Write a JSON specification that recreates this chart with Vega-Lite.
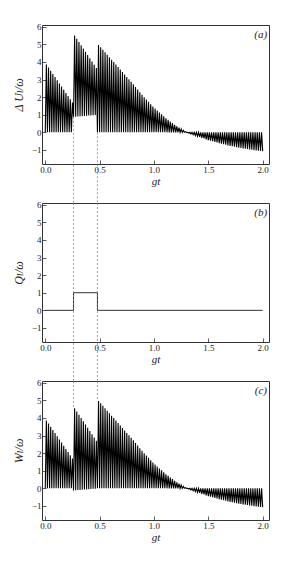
{
  "$schema": "https://vega.github.io/schema/vega-lite/v6.json",
  "background": "white",
  "padding": {"left": 11, "top": 22, "right": 5, "bottom": 5},
  "spacing": 39,
  "bounds": "flush",
  "config": {
    "view": {"stroke": "#333", "strokeWidth": 1},
    "axis": {
      "domain": false, "grid": false, "labelOverlap": false,
      "labelFont": "Liberation Serif", "labelFontSize": 9, "labelColor": "#222",
      "titleFont": "Liberation Serif, DejaVu Serif", "titleFontStyle": "italic", "titleFontWeight": "normal",
      "titleColor": "#222", "tickColor": "#333", "tickSize": -4, "tickWidth": 0.8, "labelPadding": 5
    },
    "axisX": {"titleFontSize": 11, "titlePadding": 1},
    "axisY": {"titleFontSize": 12, "titlePadding": 6}
  },
  "datasets": {
    "osc": [
      {"t":0.00,"du":0,"w":0},{"t":0.01,"du":3.86,"w":3.86},{"t":0.02,"du":0,"w":0},{"t":0.03,"du":3.68,"w":3.68},
      {"t":0.04,"du":0,"w":0},{"t":0.05,"du":3.50,"w":3.50},{"t":0.06,"du":0,"w":0},{"t":0.07,"du":3.32,"w":3.32},
      {"t":0.08,"du":0,"w":0},{"t":0.09,"du":3.14,"w":3.14},{"t":0.10,"du":0,"w":0},{"t":0.11,"du":2.96,"w":2.96},
      {"t":0.12,"du":0,"w":0},{"t":0.13,"du":2.78,"w":2.78},{"t":0.14,"du":0,"w":0},{"t":0.15,"du":2.60,"w":2.60},
      {"t":0.16,"du":0,"w":0},{"t":0.17,"du":2.42,"w":2.42},{"t":0.18,"du":0,"w":0},{"t":0.19,"du":2.24,"w":2.24},
      {"t":0.20,"du":0,"w":0},{"t":0.21,"du":2.06,"w":2.06},{"t":0.22,"du":0,"w":0},{"t":0.23,"du":1.88,"w":1.88},
      {"t":0.24,"du":0,"w":0},{"t":0.25,"du":1.70,"w":1.70},
      {"t":0.26,"du":0.88,"w":-0.12},{"t":0.27,"du":5.50,"w":4.55},{"t":0.28,"du":0.89,"w":-0.11},{"t":0.29,"du":5.32,"w":4.37},
      {"t":0.30,"du":0.90,"w":-0.10},{"t":0.31,"du":5.13,"w":4.18},{"t":0.32,"du":0.91,"w":-0.09},{"t":0.33,"du":4.95,"w":4.00},
      {"t":0.34,"du":0.92,"w":-0.08},{"t":0.35,"du":4.76,"w":3.81},{"t":0.36,"du":0.93,"w":-0.07},{"t":0.37,"du":4.58,"w":3.63},
      {"t":0.38,"du":0.94,"w":-0.06},{"t":0.39,"du":4.39,"w":3.44},{"t":0.40,"du":0.95,"w":-0.05},{"t":0.41,"du":4.21,"w":3.26},
      {"t":0.42,"du":0.96,"w":-0.04},{"t":0.43,"du":4.02,"w":3.07},{"t":0.44,"du":0.97,"w":-0.03},{"t":0.45,"du":3.84,"w":2.89},
      {"t":0.46,"du":0.98,"w":-0.02},{"t":0.47,"du":3.65,"w":2.70},
      {"t":0.48,"du":0,"w":0},{"t":0.49,"du":4.97,"w":4.97},{"t":0.50,"du":0,"w":0},{"t":0.51,"du":4.83,"w":4.83},
      {"t":0.52,"du":0,"w":0},{"t":0.53,"du":4.69,"w":4.69},{"t":0.54,"du":0,"w":0},{"t":0.55,"du":4.55,"w":4.55},
      {"t":0.56,"du":0,"w":0},{"t":0.57,"du":4.41,"w":4.41},{"t":0.58,"du":0,"w":0},{"t":0.59,"du":4.27,"w":4.27},
      {"t":0.60,"du":0,"w":0},{"t":0.61,"du":4.13,"w":4.13},{"t":0.62,"du":0,"w":0},{"t":0.63,"du":3.99,"w":3.99},
      {"t":0.64,"du":0,"w":0},{"t":0.65,"du":3.85,"w":3.85},{"t":0.66,"du":0,"w":0},{"t":0.67,"du":3.71,"w":3.71},
      {"t":0.68,"du":0,"w":0},{"t":0.69,"du":3.57,"w":3.57},{"t":0.70,"du":0,"w":0},{"t":0.71,"du":3.43,"w":3.43},
      {"t":0.72,"du":0,"w":0},{"t":0.73,"du":3.29,"w":3.29},{"t":0.74,"du":0,"w":0},{"t":0.75,"du":3.15,"w":3.15},
      {"t":0.76,"du":0,"w":0},{"t":0.77,"du":3.01,"w":3.01},{"t":0.78,"du":0,"w":0},{"t":0.79,"du":2.87,"w":2.87},
      {"t":0.80,"du":0,"w":0},{"t":0.81,"du":2.73,"w":2.73},{"t":0.82,"du":0,"w":0},{"t":0.83,"du":2.58,"w":2.58},
      {"t":0.84,"du":0,"w":0},{"t":0.85,"du":2.43,"w":2.43},{"t":0.86,"du":0,"w":0},{"t":0.87,"du":2.28,"w":2.28},
      {"t":0.88,"du":0,"w":0},{"t":0.89,"du":2.13,"w":2.13},{"t":0.90,"du":0,"w":0},{"t":0.91,"du":1.99,"w":1.99},
      {"t":0.92,"du":0,"w":0},{"t":0.93,"du":1.86,"w":1.86},{"t":0.94,"du":0,"w":0},{"t":0.95,"du":1.73,"w":1.73},
      {"t":0.96,"du":0,"w":0},{"t":0.97,"du":1.60,"w":1.60},{"t":0.98,"du":0,"w":0},{"t":0.99,"du":1.47,"w":1.47},
      {"t":1.00,"du":0,"w":0},{"t":1.01,"du":1.35,"w":1.35},{"t":1.02,"du":0,"w":0},{"t":1.03,"du":1.24,"w":1.24},
      {"t":1.04,"du":0,"w":0},{"t":1.05,"du":1.13,"w":1.13},{"t":1.06,"du":0,"w":0},{"t":1.07,"du":1.02,"w":1.02},
      {"t":1.08,"du":0,"w":0},{"t":1.09,"du":0.91,"w":0.91},{"t":1.10,"du":0,"w":0},{"t":1.11,"du":0.80,"w":0.80},
      {"t":1.12,"du":0,"w":0},{"t":1.13,"du":0.71,"w":0.71},{"t":1.14,"du":0,"w":0},{"t":1.15,"du":0.61,"w":0.61},
      {"t":1.16,"du":0,"w":0},{"t":1.17,"du":0.52,"w":0.52},{"t":1.18,"du":0,"w":0},{"t":1.19,"du":0.42,"w":0.42},
      {"t":1.20,"du":0,"w":0},{"t":1.21,"du":0.34,"w":0.34},{"t":1.22,"du":0,"w":0},{"t":1.23,"du":0.27,"w":0.27},
      {"t":1.24,"du":0,"w":0},{"t":1.25,"du":0.19,"w":0.19},{"t":1.26,"du":0,"w":0},{"t":1.27,"du":0.11,"w":0.11},
      {"t":1.28,"du":0,"w":0},{"t":1.29,"du":0.04,"w":0.04},
      {"t":1.30,"du":-0.01,"w":-0.01},{"t":1.31,"du":0,"w":0},{"t":1.32,"du":-0.04,"w":-0.04},{"t":1.33,"du":0,"w":0},
      {"t":1.34,"du":-0.09,"w":-0.09},{"t":1.35,"du":0,"w":0},{"t":1.36,"du":-0.13,"w":-0.13},{"t":1.37,"du":0,"w":0},
      {"t":1.38,"du":-0.18,"w":-0.18},{"t":1.39,"du":0,"w":0},{"t":1.40,"du":-0.22,"w":-0.22},{"t":1.41,"du":0,"w":0},
      {"t":1.42,"du":-0.26,"w":-0.26},{"t":1.43,"du":0,"w":0},{"t":1.44,"du":-0.31,"w":-0.31},{"t":1.45,"du":0,"w":0},
      {"t":1.46,"du":-0.35,"w":-0.35},{"t":1.47,"du":0,"w":0},{"t":1.48,"du":-0.40,"w":-0.40},{"t":1.49,"du":0,"w":0},
      {"t":1.50,"du":-0.44,"w":-0.44},{"t":1.51,"du":0,"w":0},{"t":1.52,"du":-0.48,"w":-0.48},{"t":1.53,"du":0,"w":0},
      {"t":1.54,"du":-0.51,"w":-0.51},{"t":1.55,"du":0,"w":0},{"t":1.56,"du":-0.55,"w":-0.55},{"t":1.57,"du":0,"w":0},
      {"t":1.58,"du":-0.58,"w":-0.58},{"t":1.59,"du":0,"w":0},{"t":1.60,"du":-0.62,"w":-0.62},{"t":1.61,"du":0,"w":0},
      {"t":1.62,"du":-0.65,"w":-0.65},{"t":1.63,"du":0,"w":0},{"t":1.64,"du":-0.68,"w":-0.68},{"t":1.65,"du":0,"w":0},
      {"t":1.66,"du":-0.71,"w":-0.71},{"t":1.67,"du":0,"w":0},{"t":1.68,"du":-0.74,"w":-0.74},{"t":1.69,"du":0,"w":0},
      {"t":1.70,"du":-0.77,"w":-0.77},{"t":1.71,"du":0,"w":0},{"t":1.72,"du":-0.79,"w":-0.79},{"t":1.73,"du":0,"w":0},
      {"t":1.74,"du":-0.82,"w":-0.82},{"t":1.75,"du":0,"w":0},{"t":1.76,"du":-0.84,"w":-0.84},{"t":1.77,"du":0,"w":0},
      {"t":1.78,"du":-0.87,"w":-0.87},{"t":1.79,"du":0,"w":0},{"t":1.80,"du":-0.89,"w":-0.89},{"t":1.81,"du":0,"w":0},
      {"t":1.82,"du":-0.91,"w":-0.91},{"t":1.83,"du":0,"w":0},{"t":1.84,"du":-0.93,"w":-0.93},{"t":1.85,"du":0,"w":0},
      {"t":1.86,"du":-0.95,"w":-0.95},{"t":1.87,"du":0,"w":0},{"t":1.88,"du":-0.97,"w":-0.97},{"t":1.89,"du":0,"w":0},
      {"t":1.90,"du":-0.99,"w":-0.99},{"t":1.91,"du":0,"w":0},{"t":1.92,"du":-1.01,"w":-1.01},{"t":1.93,"du":0,"w":0},
      {"t":1.94,"du":-1.03,"w":-1.03},{"t":1.95,"du":0,"w":0},{"t":1.96,"du":-1.04,"w":-1.04},{"t":1.97,"du":0,"w":0},
      {"t":1.98,"du":-1.06,"w":-1.06},{"t":1.99,"du":0,"w":0},{"t":2.00,"du":-1.08,"w":-1.08}
    ],
    "q": [
      {"i":0,"t":0,"q":0},{"i":1,"t":0.26,"q":0},{"i":2,"t":0.26,"q":1},
      {"i":3,"t":0.48,"q":1},{"i":4,"t":0.48,"q":0},{"i":5,"t":2.0,"q":0}
    ],
    "dash": [
      {"panel":"a","t":0.26,"y1":0.88,"y2":-4.02},{"panel":"a","t":0.48,"y1":0,"y2":-4.02},
      {"panel":"b","t":0.26,"y1":6.1,"y2":-4.02},{"panel":"b","t":0.48,"y1":6.1,"y2":-4.02},
      {"panel":"c","t":0.26,"y1":6.1,"y2":4.58},{"panel":"c","t":0.48,"y1":6.1,"y2":4.97}
    ]
  },
  "vconcat": [
    {
      "width": 227, "height": 139,
      "layer": [
        {
          "data": {"name": "osc"},
          "mark": {"type": "line", "color": "black", "strokeWidth": 1.1},
          "encoding": {
            "x": {"field": "t", "type": "quantitative", "scale": {"domain": [-0.03, 2.058], "nice": false, "zero": false},
                  "axis": {"values": [0, 0.5, 1, 1.5, 2], "tickCount": 20, "format": ".1f", "title": "gt", "labelOverlap": false}},
            "y": {"field": "du", "type": "quantitative", "scale": {"domain": [-1.8, 6.1], "nice": false, "zero": false},
                  "axis": {"values": [-1, 0, 1, 2, 3, 4, 5, 6], "tickCount": 20, "format": "d", "title": "Δ Uₗ/ω", "labelOverlap": false, "labelFlush": false}}
          }
        },
        {
          "data": {"name": "dash"},
          "transform": [{"filter": "datum.panel == 'a'"}],
          "mark": {"type": "rule", "color": "#777", "strokeWidth": 0.7, "strokeDash": [2, 2]},
          "encoding": {
            "x": {"field": "t", "type": "quantitative"},
            "y": {"field": "y1", "type": "quantitative"},
            "y2": {"field": "y2"}
          }
        },
        {
          "data": {"values": [{}]},
          "mark": {"type": "text", "font": "Liberation Serif", "fontStyle": "italic", "fontSize": 11, "align": "right", "color": "#222"},
          "encoding": {"x": {"datum": 2.04}, "y": {"datum": 5.55}, "text": {"value": "(a)"}}
        }
      ]
    },
    {
      "width": 227, "height": 139,
      "layer": [
        {
          "data": {"name": "q"},
          "mark": {"type": "line", "color": "#333", "strokeWidth": 1},
          "encoding": {
            "x": {"field": "t", "type": "quantitative", "scale": {"domain": [-0.03, 2.058], "nice": false, "zero": false},
                  "axis": {"values": [0, 0.5, 1, 1.5, 2], "tickCount": 20, "format": ".1f", "title": "gt", "labelOverlap": false}},
            "y": {"field": "q", "type": "quantitative", "scale": {"domain": [-1.8, 6.1], "nice": false, "zero": false},
                  "axis": {"values": [-1, 0, 1, 2, 3, 4, 5, 6], "tickCount": 20, "format": "d", "title": "Qₗ/ω", "labelOverlap": false, "labelFlush": false}},
            "order": {"field": "i", "type": "quantitative"}
          }
        },
        {
          "data": {"name": "dash"},
          "transform": [{"filter": "datum.panel == 'b'"}],
          "mark": {"type": "rule", "color": "#777", "strokeWidth": 0.7, "strokeDash": [2, 2]},
          "encoding": {
            "x": {"field": "t", "type": "quantitative"},
            "y": {"field": "y1", "type": "quantitative"},
            "y2": {"field": "y2"}
          }
        },
        {
          "data": {"values": [{}]},
          "mark": {"type": "text", "font": "Liberation Serif", "fontStyle": "italic", "fontSize": 11, "align": "right", "color": "#222"},
          "encoding": {"x": {"datum": 2.04}, "y": {"datum": 5.55}, "text": {"value": "(b)"}}
        }
      ]
    },
    {
      "width": 227, "height": 139,
      "layer": [
        {
          "data": {"name": "osc"},
          "mark": {"type": "line", "color": "black", "strokeWidth": 1.1},
          "encoding": {
            "x": {"field": "t", "type": "quantitative", "scale": {"domain": [-0.03, 2.058], "nice": false, "zero": false},
                  "axis": {"values": [0, 0.5, 1, 1.5, 2], "tickCount": 20, "format": ".1f", "title": "gt", "labelOverlap": false}},
            "y": {"field": "w", "type": "quantitative", "scale": {"domain": [-1.8, 6.1], "nice": false, "zero": false},
                  "axis": {"values": [-1, 0, 1, 2, 3, 4, 5, 6], "tickCount": 20, "format": "d", "title": "Wₗ/ω", "labelOverlap": false, "labelFlush": false}}
          }
        },
        {
          "data": {"name": "dash"},
          "transform": [{"filter": "datum.panel == 'c'"}],
          "mark": {"type": "rule", "color": "#777", "strokeWidth": 0.7, "strokeDash": [2, 2]},
          "encoding": {
            "x": {"field": "t", "type": "quantitative"},
            "y": {"field": "y1", "type": "quantitative"},
            "y2": {"field": "y2"}
          }
        },
        {
          "data": {"values": [{}]},
          "mark": {"type": "text", "font": "Liberation Serif", "fontStyle": "italic", "fontSize": 11, "align": "right", "color": "#222"},
          "encoding": {"x": {"datum": 2.04}, "y": {"datum": 5.55}, "text": {"value": "(c)"}}
        }
      ]
    }
  ]
}
